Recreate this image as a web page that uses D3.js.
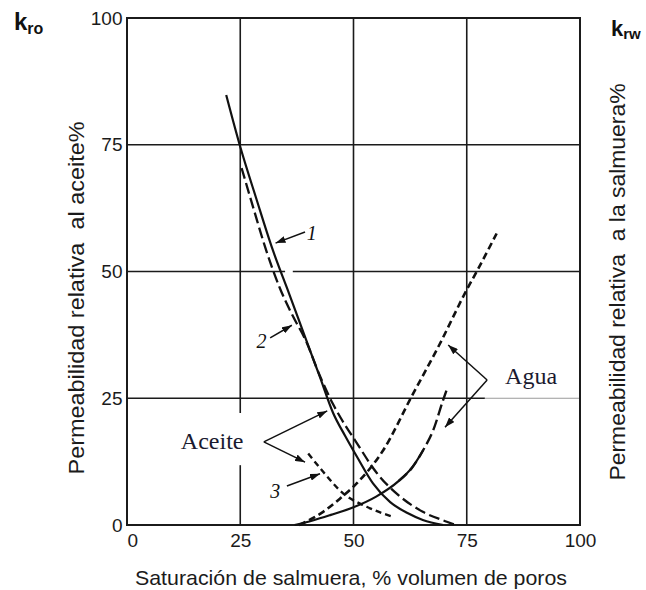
<!DOCTYPE html>
<html>
<head>
<meta charset="utf-8">
<script src="https://cdn.jsdelivr.net/npm/d3@7"></script>
<style>
  body { margin: 0; background: #fff; }
</style>
</head>
<body>
<svg id="chart" width="646" height="590"></svg>
<script>
// Tick values shared by both axes (%)
const xTickValues = [0, 25, 50, 75, 100];
const yTickValues = [0, 25, 50, 75, 100];

// Oil relative permeability, kro (%), against brine saturation (%)
const oil1Sat = [21.9, 24.9, 28.5, 32.2, 35.8, 39.3, 42.5, 45.5, 48.2, 50.8, 54.3, 58.1, 61.8, 65.3, 69.8];
const oil1Kr  = [84.8, 74.9, 64.5, 54.2, 45.6, 37.1, 29.4, 22.1, 17.5, 13.4, 8.2, 4.5, 2.4, 1.0, 0];

const oil2Sat = [25.3, 28, 30.5, 33.8, 36.5, 39.5, 42.5, 45.5, 47, 50.7, 55.1, 60.3, 65.3, 70.6, 72.5];
const oil2Kr  = [70.4, 62.2, 54.8, 46.6, 41.4, 36.3, 29.6, 23.8, 21.4, 16.2, 10.3, 5.6, 2.6, 0.65, 0];

const oil3Sat = [40, 43.3, 47.7, 52.9, 58.8];
const oil3Kr  = [14.1, 10.5, 6.25, 3.6, 1.6];

// Brine relative permeability, krw (%)
const water1Sat = [37, 41, 45, 50, 55, 60, 63, 65.4];
const water1Kr  = [0, 0.9, 2.0, 3.5, 5.6, 8.7, 11.4, 14.8];

const water2Sat = [60, 63, 65.4, 67.6, 69.8, 70.5];
const water2Kr  = [8.7, 11.4, 14.8, 18.7, 24.7, 26.5];

const water3Sat = [38, 43.3, 47, 50.7, 56.6, 62.8, 69.1, 75, 77.2, 81.6];
const water3Kr  = [0, 2.6, 5.2, 8.2, 14.8, 25.3, 35.8, 46.4, 50, 57.5];

const sans = "'Liberation Sans', Arial, sans-serif";
const serif = "'Liberation Serif', 'Times New Roman', serif";
const ink = "#1b1b1b";

const svg = d3.select("#chart");
svg.append("rect").attr("width", 646).attr("height", 590).attr("fill", "#fff");

const x = d3.scaleLinear().domain([0, 100]).range([127, 580]);
const y = d3.scaleLinear().domain([0, 100]).range([525, 18]);

// Grid lines (as segments, with the breaks left around labels)
const gridSegs = [
  { x1: 25, y1: 0, x2: 25, y2: 11.8 },
  { x1: 25, y1: 22.1, x2: 25, y2: 100 },
  { x1: 50, y1: 0, x2: 50, y2: 100 },
  { x1: 75, y1: 0, x2: 75, y2: 100 },
  { x1: 0, y1: 75, x2: 100, y2: 75 },
  { x1: 0, y1: 50, x2: 34.9, y2: 50 },
  { x1: 36.6, y1: 50, x2: 100, y2: 50 },
  { x1: 0, y1: 25, x2: 79, y2: 25 }
];
svg.append("g").selectAll("line").data(gridSegs).join("line")
  .attr("x1", d => x(d.x1)).attr("y1", d => y(d.y1))
  .attr("x2", d => x(d.x2)).attr("y2", d => y(d.y2))
  .attr("stroke", ink).attr("stroke-width", 1.6);
svg.append("line")
  .attr("x1", x(79)).attr("x2", x(100)).attr("y1", y(25)).attr("y2", y(25))
  .attr("stroke", "#9a9a9a").attr("stroke-width", 1.1);

// Frame
svg.append("rect")
  .attr("x", x(0)).attr("y", y(100))
  .attr("width", x(100) - x(0)).attr("height", y(0) - y(100))
  .attr("fill", "none").attr("stroke", ink).attr("stroke-width", 2);

// Axes (labels only)
const gx = svg.append("g").attr("transform", `translate(0,${y(0)})`)
  .call(d3.axisBottom(x).tickValues(xTickValues).tickSize(0).tickPadding(8.5).tickFormat(d3.format("d")));
const gy = svg.append("g").attr("transform", `translate(${x(0)},0)`)
  .call(d3.axisLeft(y).tickValues(yTickValues).tickSize(0).tickPadding(4.5).tickFormat(d3.format("d")));
[gx, gy].forEach(g => {
  g.select(".domain").remove();
  g.selectAll("text").attr("fill", ink)
    .style("font-family", sans).style("font-size", "19px");
});
gx.selectAll("text").filter(d => d === 0).attr("text-anchor", "start");

// Curves
const line = d3.line().x(d => x(d[0])).y(d => y(d[1])).curve(d3.curveMonotoneX);
const pair = (s, k) => s.map((v, i) => [v, k[i]]);
const curves = [
  { pts: pair(oil1Sat, oil1Kr), dash: null, w: 2.2 },
  { pts: pair(oil2Sat, oil2Kr), dash: "11,4.5", w: 2.3 },
  { pts: pair(oil3Sat, oil3Kr), dash: "6,4", w: 2.4 },
  { pts: pair(water1Sat, water1Kr), dash: null, w: 2.2 },
  { pts: pair(water2Sat, water2Kr), dash: "11,4.5", w: 2.4 },
  { pts: pair(water3Sat, water3Kr), dash: "7,4", w: 2.6 }
];
svg.append("g").selectAll("path").data(curves).join("path")
  .attr("d", d => line(d.pts))
  .attr("fill", "none").attr("stroke", "#111")
  .attr("stroke-width", d => d.w)
  .attr("stroke-dasharray", d => d.dash);

// Arrowhead marker
svg.append("defs").append("marker")
  .attr("id", "arrow").attr("viewBox", "0 0 10 7")
  .attr("refX", 10).attr("refY", 3.5)
  .attr("markerWidth", 10).attr("markerHeight", 7)
  .attr("markerUnits", "userSpaceOnUse").attr("orient", "auto")
  .append("path").attr("d", "M0,0 L10,3.5 L0,7 Z").attr("fill", "#111");

// Leader arrows: [from sat, from kr, to sat, to kr]
const arrows = [
  [39.3, 57.8, 32.8, 55.6],
  [31.6, 36.9, 36.4, 39.4],
  [35.3, 7.7, 42.6, 10.1],
  [30.2, 16.4, 44.2, 22.5],
  [30.2, 16.4, 39.3, 12.4],
  [79.5, 28.6, 70.9, 35.5],
  [79.5, 28.6, 70.2, 19.3]
];
svg.append("g").selectAll("line").data(arrows).join("line")
  .attr("x1", d => x(d[0])).attr("y1", d => y(d[1]))
  .attr("x2", d => x(d[2])).attr("y2", d => y(d[3]))
  .attr("stroke", "#111").attr("stroke-width", 1.5)
  .attr("marker-end", "url(#arrow)");

// Curve numbers
const numLabels = [
  { t: "1", s: 40.8, k: 56.2 },
  { t: "2", s: 29.7, k: 35.0 },
  { t: "3", s: 32.7, k: 5.4 }
];
svg.append("g").selectAll("text").data(numLabels).join("text")
  .attr("x", d => x(d.s)).attr("y", d => y(d.k))
  .attr("text-anchor", "middle").attr("fill", "#111")
  .style("font-family", serif).style("font-style", "italic").style("font-size", "20px")
  .text(d => d.t);

// Phase labels
svg.append("text").attr("x", x(18.8)).attr("y", y(16.6)).attr("dy", "0.35em")
  .attr("text-anchor", "middle").attr("fill", "#1a1a30")
  .style("font-family", serif).style("font-size", "24px")
  .text("Aceite");
svg.append("text").attr("x", x(89.2)).attr("y", y(29.4)).attr("dy", "0.35em")
  .attr("text-anchor", "middle").attr("fill", "#1a1a30")
  .style("font-family", serif).style("font-size", "24px")
  .text("Agua");

// Axis titles
svg.append("text").attr("x", 351).attr("y", 585)
  .attr("text-anchor", "middle").attr("fill", ink)
  .style("font-family", sans).style("font-size", "21px")
  .attr("textLength", 432).attr("lengthAdjust", "spacingAndGlyphs")
  .text("Saturación de salmuera, % volumen de poros");
svg.append("text").attr("transform", "translate(84,298) rotate(-90)")
  .attr("text-anchor", "middle").attr("fill", ink)
  .style("font-family", sans).style("font-size", "22px").style("white-space", "pre")
  .attr("textLength", 353).attr("lengthAdjust", "spacingAndGlyphs")
  .text("Permeabilidad relativa  al aceite%");
svg.append("text").attr("transform", "translate(625,282) rotate(-90)")
  .attr("text-anchor", "middle").attr("fill", ink)
  .style("font-family", sans).style("font-size", "22px").style("white-space", "pre")
  .attr("textLength", 397).attr("lengthAdjust", "spacingAndGlyphs")
  .text("Permeabilidad relativa  a la salmuera%");

// kro / krw symbols
const kro = svg.append("text").attr("x", 14).attr("y", 30).attr("fill", "#111")
  .style("font-family", sans).style("font-weight", "bold").style("font-size", "24px");
kro.append("tspan").text("k");
kro.append("tspan").style("font-size", "16px").attr("dy", 4).text("ro");
const krw = svg.append("text").attr("x", 611).attr("y", 36).attr("fill", "#111")
  .style("font-family", sans).style("font-weight", "bold").style("font-size", "22px");
krw.append("tspan").text("k");
krw.append("tspan").style("font-size", "15px").attr("dy", 3).text("rw");
</script>
</body>
</html>
